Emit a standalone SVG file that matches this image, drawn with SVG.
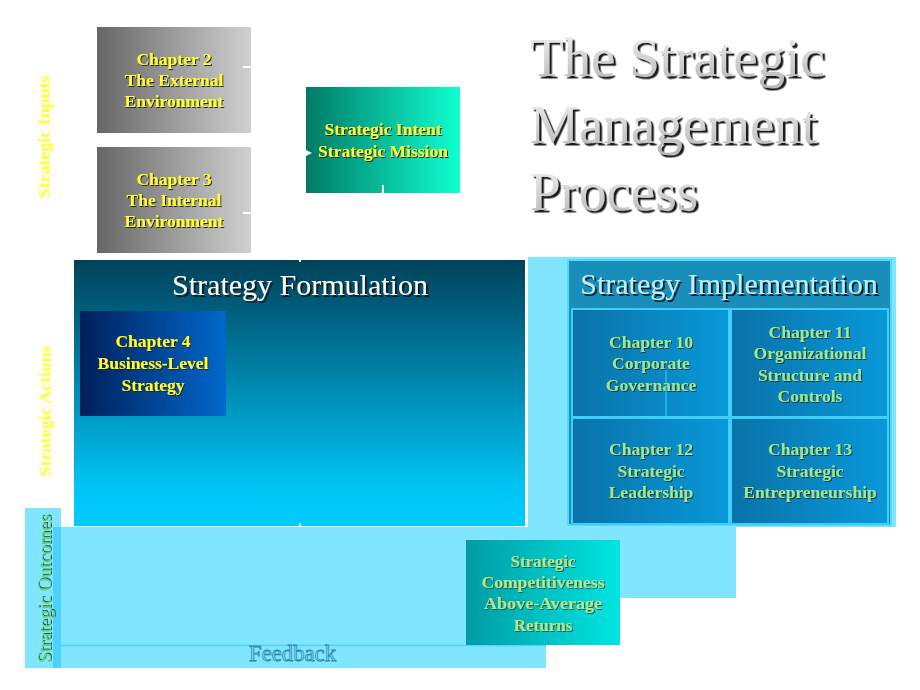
<svg xmlns="http://www.w3.org/2000/svg" width="920" height="690" viewBox="0 0 920 690">
<defs>
<linearGradient id="gGray" x1="0" y1="0" x2="1" y2="0"><stop offset="0" stop-color="#666666"/><stop offset="1" stop-color="#d0d0d0"/></linearGradient>
<linearGradient id="gIntent" x1="0" y1="0" x2="1" y2="0"><stop offset="0" stop-color="#007a66"/><stop offset="1" stop-color="#10ffd0"/></linearGradient>
<linearGradient id="gForm" x1="0" y1="0" x2="0" y2="1"><stop offset="0" stop-color="#00425a"/><stop offset="0.5" stop-color="#008db5"/><stop offset="0.85" stop-color="#00c4f2"/><stop offset="1" stop-color="#00ccff"/></linearGradient>
<linearGradient id="gCh4" x1="0" y1="0" x2="1" y2="0"><stop offset="0" stop-color="#00205a"/><stop offset="1" stop-color="#0068cc"/></linearGradient>
<linearGradient id="gImpl" x1="0" y1="0" x2="1" y2="0"><stop offset="0" stop-color="#0a72a8"/><stop offset="1" stop-color="#0899da"/></linearGradient>
<linearGradient id="gComp" x1="0" y1="0" x2="1" y2="0"><stop offset="0" stop-color="#009ca4"/><stop offset="1" stop-color="#00e6e2"/></linearGradient>
<linearGradient id="gTitle" x1="0" y1="0" x2="0" y2="1"><stop offset="0" stop-color="#f4f4f4"/><stop offset="1" stop-color="#b4b4b4"/></linearGradient>
<filter id="shTitle" x="-5%" y="-20%" width="115%" height="150%"><feDropShadow dx="2.5" dy="2.5" stdDeviation="0.4" flood-color="#1a1a1a"/></filter>
<filter id="shDark" x="-5%" y="-20%" width="115%" height="150%"><feDropShadow dx="1" dy="1" stdDeviation="0.2" flood-color="#202020"/></filter>
<filter id="shBlue" x="-5%" y="-20%" width="115%" height="150%"><feDropShadow dx="1" dy="1" stdDeviation="0.2" flood-color="#0a3550"/></filter>
<filter id="shTeal" x="-5%" y="-20%" width="115%" height="150%"><feDropShadow dx="1" dy="1" stdDeviation="0.2" flood-color="#1a5a5a"/></filter>
<filter id="shBig" x="-5%" y="-20%" width="115%" height="150%"><feDropShadow dx="2" dy="2" stdDeviation="0.3" flood-color="#0a1a20"/></filter>
</defs>
<style>
.ch{font-family:"Liberation Serif","Times New Roman",serif;font-weight:bold;font-size:17.5px;text-anchor:middle}
.yel{fill:#ffff33;filter:url(#shDark)}
.grn{fill:#9fe88e;filter:url(#shBlue)}
.side{font-family:"Liberation Serif","Times New Roman",serif;font-weight:bold;font-size:17px;fill:#ffff33;text-anchor:middle}
.big{font-family:"Liberation Serif","Times New Roman",serif;font-size:30px;text-anchor:middle;filter:url(#shBig)}
.title{font-family:"Liberation Serif","Times New Roman",serif;font-size:55px;fill:url(#gTitle);filter:url(#shTitle)}
.cy{fill:#80e5ff}
</style>

<g id="backgrounds">
<rect x="528" y="257" width="368" height="270" class="cy"/>
<rect x="53" y="527" width="683" height="71" class="cy"/>
<rect x="53" y="527" width="493" height="141" class="cy"/>
<line x1="53" y1="645.5" x2="546" y2="645.5" stroke="#55d2fa" stroke-width="1.5"/>
</g>

<g id="title">
<text class="title" x="530" y="76">The Strategic</text>
<text class="title" x="530" y="143">Management</text>
<text class="title" x="530" y="210">Process</text>
</g>

<g id="label-inputs">
<text class="side" transform="rotate(-90 50 137)" x="50" y="137" textLength="123" lengthAdjust="spacingAndGlyphs">Strategic Inputs</text>
</g>
<g id="label-actions">
<text class="side" transform="rotate(-90 51 411)" x="51" y="411" textLength="131" lengthAdjust="spacingAndGlyphs">Strategic Actions</text>
</g>
<g id="label-outcomes">
<rect x="25" y="508" width="36" height="160" fill="#80e5ff"/>
<rect x="53" y="527" width="8" height="141" fill="#4dd0fa"/>
<text transform="rotate(-90 51 589)" x="51" y="589" font-family="'Liberation Serif','Times New Roman',serif" font-size="18px" fill="#66d46a" text-anchor="middle" textLength="148" lengthAdjust="spacingAndGlyphs" filter="url(#shTeal)">Strategic Outcomes</text>
</g>

<g id="ch2">
<rect x="97" y="27" width="154" height="106" fill="url(#gGray)"/>
<text class="ch yel" x="174" y="65">Chapter 2</text><text class="ch yel" x="174" y="86">The External</text><text class="ch yel" x="174" y="107">Environment</text>
</g>

<g id="ch3">
<rect x="97" y="147" width="154" height="106" fill="url(#gGray)"/>
<text class="ch yel" x="174" y="185">Chapter 3</text><text class="ch yel" x="174" y="206">The Internal</text><text class="ch yel" x="174" y="227">Environment</text>
</g>

<g id="intent">
<rect x="306" y="87" width="154" height="106" fill="url(#gIntent)"/>
<text class="ch yel" x="383" y="135">Strategic Intent</text><text class="ch yel" x="383" y="157">Strategic Mission</text>
</g>

<g id="formulation">
<rect x="74" y="260" width="451" height="266" fill="url(#gForm)"/>
<text class="big" x="300" y="295" fill="#ffffff">Strategy Formulation</text>
</g>

<g id="ch4">
<rect x="80" y="311" width="146" height="105" fill="url(#gCh4)"/>
<text class="ch yel" x="153" y="347">Chapter 4</text><text class="ch yel" x="153" y="369">Business-Level</text><text class="ch yel" x="153" y="391">Strategy</text>
</g>

<g id="implementation">
<rect x="568" y="260" width="323" height="265" fill="#1a8ebb" stroke="#55d8ff" stroke-width="2"/>
<text class="big" x="729" y="294" fill="#b8f2ff">Strategy Implementation</text>
<rect x="571" y="308" width="318" height="217" fill="#40cdf8"/>
</g>

<g id="ch10">
<rect x="573" y="310" width="155" height="106" fill="url(#gImpl)"/>
<text class="ch grn" x="651" y="348">Chapter 10</text><text class="ch grn" x="651" y="369">Corporate</text><text class="ch grn" x="651" y="391">Governance</text>
</g>
<g id="ch11">
<rect x="732" y="310" width="155" height="106" fill="url(#gImpl)"/>
<text class="ch grn" x="810" y="338">Chapter 11</text><text class="ch grn" x="810" y="359">Organizational</text><text class="ch grn" x="810" y="381">Structure and</text><text class="ch grn" x="810" y="402">Controls</text>
</g>
<g id="ch12">
<rect x="573" y="419" width="155" height="104" fill="url(#gImpl)"/>
<text class="ch grn" x="651" y="455">Chapter 12</text><text class="ch grn" x="651" y="477">Strategic</text><text class="ch grn" x="651" y="498">Leadership</text>
</g>
<g id="ch13">
<rect x="732" y="419" width="155" height="104" fill="url(#gImpl)"/>
<text class="ch grn" x="810" y="455">Chapter 13</text><text class="ch grn" x="810" y="477">Strategic</text><text class="ch grn" x="810" y="498">Entrepreneurship</text>
</g>

<g id="outcomes">
<rect x="466" y="540" width="154" height="105" fill="url(#gComp)"/>
<g font-family="'Liberation Serif','Times New Roman',serif" font-weight="bold" font-size="17px" text-anchor="middle" fill="#b4e888" filter="url(#shTeal)">
<text x="543" y="567">Strategic</text><text x="543" y="588" textLength="123" lengthAdjust="spacingAndGlyphs">Competitiveness</text><text x="543" y="609" textLength="118" lengthAdjust="spacingAndGlyphs">Above-Average</text><text x="543" y="631">Returns</text>
</g>
</g>

<g id="feedback">
<text x="249" y="661" font-family="'Liberation Serif','Times New Roman',serif" font-size="23px" fill="#80e5ff" stroke="#2a86a6" stroke-width="0.8" textLength="87" lengthAdjust="spacingAndGlyphs">Feedback</text>
</g>

<g id="connectors" stroke="#ffffff" stroke-width="2" fill="none">
<line x1="243" y1="67" x2="251" y2="67"/>
<line x1="243" y1="213" x2="251" y2="213"/>
<polygon points="306,150 312,153 306,156" fill="#ffffff" stroke="none"/>
<line x1="383" y1="185" x2="383" y2="193"/>
<line x1="300" y1="258" x2="300" y2="262"/>
<line x1="300" y1="523" x2="300" y2="527"/>
<line x1="526" y1="258" x2="526" y2="527"/>
<line x1="666" y1="370" x2="666" y2="416" stroke="#40cdf8" stroke-width="1"/>
</g>
</svg>
